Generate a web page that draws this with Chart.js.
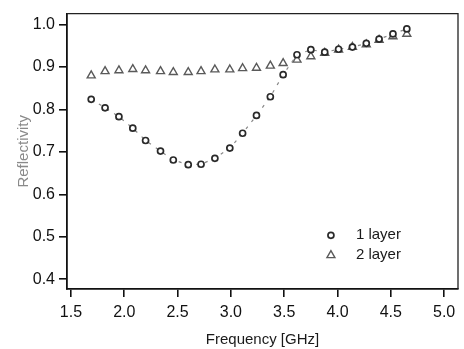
<!DOCTYPE html>
<html lang="en">
<head>
  <meta charset="UTF-8">
  <title>Reflectivity vs Frequency</title>
  <script src="https://cdn.jsdelivr.net/npm/chart.js"></script>
  <style>
    body { margin: 0; background: #fff; }
    .chart-box { width: 464px; height: 349px; }
  </style>
</head>
<body>
  <div class="chart-box">
    <canvas id="reflChart" width="464" height="349"></canvas>
  </div>

  <script>
    // data
    const freq = [1.69, 1.82, 1.95, 2.08, 2.20, 2.34, 2.46, 2.60, 2.72, 2.85, 2.99, 3.11,
                  3.24, 3.37, 3.49, 3.62, 3.75, 3.88, 4.01, 4.14, 4.27, 4.39, 4.52, 4.65];
    const oneLayer = [0.824, 0.804, 0.783, 0.756, 0.727, 0.702, 0.681, 0.670, 0.671, 0.685, 0.709, 0.744,
                      0.786, 0.830, 0.882, 0.929, 0.941, 0.935, 0.942, 0.947, 0.956, 0.966, 0.978, 0.990];
    const twoLayer = [0.880, 0.890, 0.892, 0.895, 0.892, 0.890, 0.888, 0.888, 0.890, 0.894, 0.894, 0.897,
                      0.898, 0.903, 0.909, 0.917, 0.925, 0.933, 0.941, 0.947, 0.953, 0.964, 0.972, 0.978];
    const xTicks = [1.5, 2.0, 2.5, 3.0, 3.5, 4.0, 4.5, 5.0];
    const yTicks = [0.4, 0.5, 0.6, 0.7, 0.8, 0.9, 1.0];

    const FONT = '"Liberation Sans", Arial, sans-serif';
    const toPoints = (xs, ys) => xs.map((x, i) => ({ x: x, y: ys[i] }));

    // box on top/right + legend inside the plot
    const frameAndLegend = {
      id: 'frameAndLegend',
      afterDraw(chart) {
        const { ctx, chartArea: a } = chart;
        ctx.save();
        ctx.strokeStyle = '#222';
        ctx.lineWidth = 1.3;
        ctx.beginPath();
        ctx.moveTo(a.left, a.top);
        ctx.lineTo(a.right, a.top);
        ctx.lineTo(a.right, a.bottom);
        ctx.stroke();

        const lx = a.left + (a.right - a.left) * 0.675;
        let ly = a.top + (a.bottom - a.top) * 0.805;
        ctx.font = '15px ' + FONT;
        ctx.textBaseline = 'middle';
        chart.data.datasets.forEach(ds => {
          ctx.fillStyle = '#fff';
          ctx.strokeStyle = ds.pointBorderColor;
          ctx.lineWidth = ds.pointBorderWidth;
          ctx.beginPath();
          if (ds.pointStyle === 'triangle') {
            const r = ds.pointRadius;
            ctx.moveTo(lx, ly - r);
            ctx.lineTo(lx + r * 0.866, ly + r * 0.5);
            ctx.lineTo(lx - r * 0.866, ly + r * 0.5);
            ctx.closePath();
          } else {
            ctx.arc(lx, ly, ds.pointRadius, 0, Math.PI * 2);
          }
          ctx.fill();
          ctx.stroke();
          ctx.fillStyle = '#1a1a1a';
          ctx.fillText(ds.label, lx + 25, ly);
          ly += 20;
        });
        ctx.restore();
      }
    };

    const ctx = document.getElementById('reflChart').getContext('2d');
    new Chart(ctx, {
      type: 'scatter',
      data: {
        datasets: [{
          label: '1 layer',
          data: toPoints(freq, oneLayer),
          showLine: true,
          borderColor: '#888',
          pointBorderColor: '#2a2a2a',
          pointBackgroundColor: '#fff',
          pointStyle: 'circle',
          pointRadius: 3,
          pointBorderWidth: 1.7,
          borderWidth: 1.2,
          borderDash: [3, 6]
        }, {
          label: '2 layer',
          data: toPoints(freq, twoLayer),
          showLine: false,
          borderColor: '#666',
          pointBorderColor: '#5a5a5a',
          pointBackgroundColor: '#fff',
          pointStyle: 'triangle',
          pointRadius: 4.6,
          pointBorderWidth: 1.4
        }]
      },
      options: {
        responsive: false,
        animation: false,
        layout: { padding: { top: 12, right: 2, left: 0, bottom: 0 } },
        plugins: {
          legend: { display: false },
          tooltip: { enabled: false }
        },
        scales: {
          x: {
            type: 'linear',
            min: 1.463,
            max: 5.13,
            afterBuildTicks: s => { s.ticks = xTicks.map(v => ({ value: v })); },
            afterFit: s => { s.height = 60; },
            ticks: {
              callback: v => v.toFixed(1),
              color: '#111',
              font: { family: FONT, size: 16 },
              padding: 6,
              maxRotation: 0
            },
            grid: { drawOnChartArea: false, tickLength: 8, color: '#111', lineWidth: 1.6 },
            border: { display: true, color: '#111', width: 1.8 },
            title: {
              display: true,
              text: 'Frequency [GHz]',
              color: '#1a1a1a',
              font: { family: FONT, size: 15 },
              padding: { top: 0, bottom: 0 }
            }
          },
          y: {
            type: 'linear',
            min: 0.377,
            max: 1.026,
            afterBuildTicks: s => { s.ticks = yTicks.map(v => ({ value: v })); },
            afterFit: s => { s.width = 67; },
            ticks: {
              callback: v => v.toFixed(1),
              color: '#111',
              font: { family: FONT, size: 16 },
              padding: 4
            },
            grid: { drawOnChartArea: false, tickLength: 8, color: '#111', lineWidth: 1.6 },
            border: { display: true, color: '#111', width: 1.8 },
            title: {
              display: true,
              text: 'Reflectivity',
              color: '#8a8a8a',
              font: { family: FONT, size: 15 },
              padding: { top: 15, bottom: 0 }
            }
          }
        }
      },
      plugins: [frameAndLegend]
    });
  </script>
</body>
</html>
